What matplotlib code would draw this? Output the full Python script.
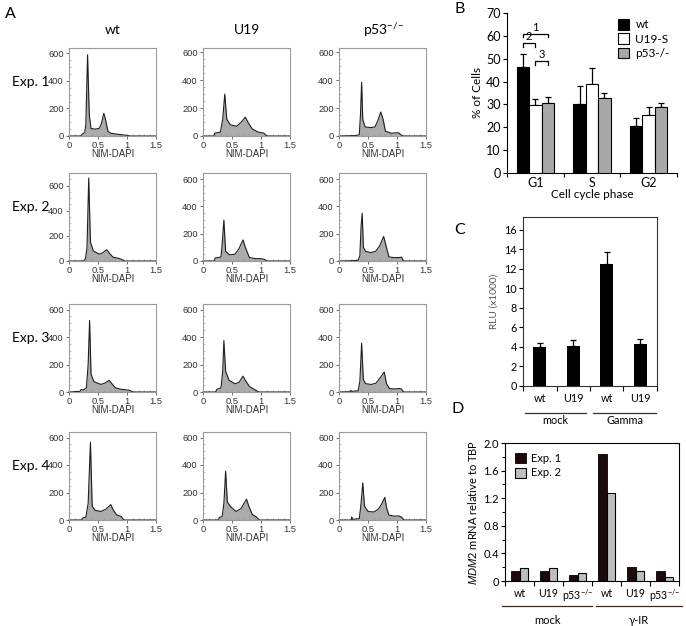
import matplotlib

matplotlib.use("Agg")
import matplotlib.pyplot as plt
from matplotlib.patches import Patch
from matplotlib.ticker import MultipleLocator

W, H = 686, 626

plt.rcParams["font.family"] = ["Lato", "DejaVu Sans"]
plt.rcParams["mathtext.fontset"] = "custom"
plt.rcParams["mathtext.rm"] = "Lato"
plt.rcParams["mathtext.it"] = "Liberation Sans:italic"
plt.rcParams["mathtext.default"] = "regular"

# ---- Panel A: NIM-DAPI histograms, breakpoints (rows = Exp. 1..4)
genotypes = ["wt", "U19", "p53$^{{-}/{-}}$"]
experiments = ["Exp. 1", "Exp. 2", "Exp. 3", "Exp. 4"]

wt_x = [
    [0, 0.20, 0.23, 0.27, 0.29, 0.32, 0.35, 0.38, 0.45, 0.52, 0.56, 0.60, 0.63, 0.67, 0.72, 0.85, 1.0, 1.05, 1.5],
    [0, 0.25, 0.28, 0.31, 0.34, 0.37, 0.42, 0.52, 0.58, 0.65, 0.70, 0.76, 0.85, 0.93, 0.96, 1.5],
    [0, 0.19, 0.21, 0.25, 0.30, 0.33, 0.355, 0.38, 0.43, 0.55, 0.62, 0.69, 0.73, 0.80, 0.90, 1.05, 1.10, 1.5],
    [0, 0.22, 0.24, 0.29, 0.33, 0.37, 0.40, 0.45, 0.55, 0.64, 0.72, 0.76, 0.82, 0.90, 0.95, 1.5],
]
wt_y = [
    [0, 0, 15, 25, 80, 590, 150, 55, 50, 55, 90, 165, 120, 35, 20, 12, 5, 0, 0],
    [0, 0, 15, 100, 660, 150, 80, 55, 65, 90, 60, 30, 22, 8, 0, 0],
    [0, 5, 18, 15, 30, 200, 520, 130, 75, 55, 65, 85, 65, 30, 20, 12, 0, 0],
    [0, 0, 15, 20, 120, 565, 100, 70, 62, 80, 112, 75, 38, 25, 0, 0],
]
u19_x = [
    [0, 0.19, 0.20, 0.30, 0.34, 0.375, 0.41, 0.47, 0.58, 0.66, 0.73, 0.78, 0.85, 0.95, 1.05, 1.10, 1.5],
    [0, 0.19, 0.21, 0.31, 0.33, 0.36, 0.39, 0.46, 0.55, 0.62, 0.69, 0.73, 0.80, 0.90, 1.0, 1.06, 1.10, 1.5],
    [0, 0.22, 0.24, 0.31, 0.34, 0.36, 0.39, 0.45, 0.55, 0.62, 0.69, 0.73, 0.80, 0.90, 0.96, 1.5],
    [0, 0.26, 0.28, 0.33, 0.36, 0.39, 0.42, 0.48, 0.57, 0.66, 0.75, 0.79, 0.85, 0.92, 0.97, 1.5],
]
u19_y = [
    [0, 0, 20, 28, 120, 300, 120, 80, 70, 100, 135, 95, 50, 28, 20, 0, 0],
    [0, 0, 22, 30, 120, 300, 70, 45, 50, 90, 155, 100, 25, 18, 17, 12, 0, 0],
    [0, 0, 20, 30, 150, 375, 150, 85, 60, 70, 115, 85, 40, 15, 0, 0],
    [0, 0, 18, 25, 120, 355, 130, 95, 62, 85, 152, 100, 40, 22, 0, 0],
]
p53_x = [
    [0, 0.30, 0.35, 0.37, 0.39, 0.41, 0.45, 0.55, 0.62, 0.67, 0.72, 0.76, 0.80, 0.90, 0.98, 1.03, 1.07, 1.10, 1.5],
    [0, 0.20, 0.33, 0.36, 0.38, 0.40, 0.42, 0.46, 0.55, 0.63, 0.70, 0.77, 0.80, 0.86, 0.95, 1.04, 1.08, 1.11, 1.5],
    [0, 0.19, 0.20, 0.22, 0.33, 0.36, 0.39, 0.42, 0.46, 0.56, 0.64, 0.72, 0.78, 0.82, 0.87, 0.95, 1.05, 1.08, 1.11, 1.5],
    [0, 0.21, 0.22, 0.23, 0.35, 0.38, 0.41, 0.44, 0.50, 0.60, 0.68, 0.74, 0.79, 0.82, 0.86, 0.95, 1.03, 1.08, 1.12, 1.5],
]
p53_y = [
    [0, 3, 10, 150, 385, 120, 65, 60, 65, 110, 172, 120, 35, 20, 22, 22, 8, 0, 0],
    [0, 2, 5, 40, 250, 350, 100, 70, 62, 70, 110, 180, 130, 30, 25, 25, 28, 0, 0],
    [0, 2, 12, 5, 8, 80, 355, 90, 60, 55, 65, 110, 145, 60, 25, 22, 25, 20, 0, 0],
    [0, 0, 22, 5, 10, 120, 270, 100, 62, 58, 80, 120, 165, 90, 35, 28, 30, 20, 0, 0],
]
hist_ymax = [[640, 630, 630], [700, 645, 645], [640, 640, 640], [640, 640, 640]]

# ---- Panel B: % of cells per cell cycle phase
phases = ["G1", "S", "G2"]
b_series = ["wt", "U19-S", "p53-/-"]
b_wt = [46.3, 30.2, 20.5]
b_wt_err = [5.7, 7.8, 3.7]
b_u19 = [29.6, 39.0, 25.2]
b_u19_err = [2.9, 7.1, 3.8]
b_p53 = [30.7, 32.6, 29.0]
b_p53_err = [2.7, 2.5, 1.7]
bracket_pairs = [(0, 2), (0, 1), (1, 2)]
bracket_y = [60.9, 56.8, 49.0]
bracket_labels = ["1", "2", "3"]

# ---- Panel C: luciferase
c_labels = ["wt", "U19", "wt", "U19"]
c_vals = [4.0, 4.1, 12.5, 4.35]
c_err = [0.4, 0.6, 1.2, 0.5]
c_groups = ["mock", "Gamma"]

# ---- Panel D: MDM2 mRNA
d_labels = ["wt", "U19", "p53$^{{-}/{-}}$", "wt", "U19", "p53$^{{-}/{-}}$"]
d_exp1 = [0.15, 0.14, 0.09, 1.84, 0.21, 0.14]
d_exp2 = [0.19, 0.19, 0.12, 1.28, 0.14, 0.06]
d_groups = ["mock", "\u03b3-IR"]


def px_axes(fig, left, top, right, bottom):
    return fig.add_axes([left / W, 1 - bottom / H, (right - left) / W, (bottom - top) / H])


def fig_text(fig, x, y, s, **kw):
    fig.text(x / W, 1 - y / H, s, ha="center", va="center", **kw)


fig = plt.figure(figsize=(W / 100, H / 100), dpi=100)

# Panel A
col_left = [69, 203, 339]
row_top = [48, 173, 304, 432]
all_x = [wt_x, u19_x, p53_x]
all_y = [wt_y, u19_y, p53_y]
for r, top in enumerate(row_top):
    for c, left in enumerate(col_left):
        ax = px_axes(fig, left, top, left + 87, top + 88)
        xs, ys = all_x[c][r], all_y[c][r]
        ax.fill_between(xs, ys, color="#ababab", lw=0)
        ax.plot(xs, ys, color="#1e1e1e", lw=0.8, clip_on=False)
        ax.set_xlim(0, 1.5)
        ax.set_ylim(0, hist_ymax[r][c])
        ax.set_xticks([0, 0.5, 1, 1.5], ["0", "0.5", "1", "1.5"])
        ax.set_yticks([0, 200, 400, 600])
        ax.xaxis.set_minor_locator(MultipleLocator(0.1))
        ax.yaxis.set_minor_locator(MultipleLocator(50))
        for s in ax.spines.values():
            s.set_color("#9a9a9a")
            s.set_linewidth(0.8)
        ax.tick_params(which="major", length=2.5, width=0.6, color="#555555", labelsize=6.7,
                       labelcolor="#333333", pad=1.2)
        ax.tick_params(which="minor", length=1.2, width=0.4, color="#888888", direction="in")
        for lab in ax.get_xticklabels() + ax.get_yticklabels():
            lab.set_family("Liberation Sans")
        ax.set_xlabel("NIM-DAPI", fontsize=7, family="Liberation Sans", color="#333333", labelpad=-1)
    fig.text(12 / W, 1 - (top + 34) / H, experiments[r], ha="left", va="center", fontsize=10)
for c, left in enumerate(col_left):
    fig_text(fig, left + 44, 30, genotypes[c], fontsize=10)

# Panel B
axb = px_axes(fig, 507, 13.3, 677, 172.7)
offsets = [-0.22, 0.0, 0.22]
b_vals = [b_wt, b_u19, b_p53]
b_errs = [b_wt_err, b_u19_err, b_p53_err]
b_face = ["black", "white", "#a8a8a8"]
xpos = list(range(len(phases)))
for i in range(3):
    xi = [x + offsets[i] for x in xpos]
    axb.errorbar(xi, b_vals[i], yerr=[[0] * 3, b_errs[i]], fmt="none", ecolor="black",
                 elinewidth=0.9, capsize=2.5, capthick=0.9, zorder=2)
    axb.bar(xi, b_vals[i], width=0.22, color=b_face[i], edgecolor="black", lw=0.8,
            label=b_series[i], zorder=3)
for (i0, i1), yb, lab in zip(bracket_pairs, bracket_y, bracket_labels):
    xa, xb = offsets[i0], offsets[i1]
    axb.plot([xa, xa, xb, xb], [yb - 1.5, yb, yb, yb - 1.5], color="black", lw=0.9)
    axb.text((xa + xb) / 2, yb + 0.6, lab, ha="center", va="bottom", fontsize=8)
axb.set_xlim(-0.5, 2.5)
axb.set_ylim(0, 70)
axb.set_yticks(range(0, 71, 10))
axb.set_xticks([-0.5, 0.5, 1.5, 2.5], [""] * 4)
axb.set_xticks(xpos, phases, minor=True)
axb.tick_params(axis="x", which="minor", length=0, labelsize=9, pad=3)
axb.tick_params(axis="x", which="major", length=3, width=0.8)
axb.tick_params(axis="y", length=3, width=0.8, labelsize=9, pad=1.5)
axb.spines[["top", "right"]].set_visible(False)
axb.set_ylabel("% of Cells", fontsize=8.5, labelpad=2)
axb.set_xlabel("Cell cycle phase", fontsize=8.5, labelpad=0)
axb.legend(handles=[Patch(facecolor=f, edgecolor="black", lw=0.8) for f in b_face], labels=b_series,
           loc="upper right", bbox_to_anchor=(1.02, 1.03), frameon=False, fontsize=8.5,
           handlelength=1.0, handleheight=1.0, handletextpad=0.5, labelspacing=0.25)

# Panel C
axc = px_axes(fig, 523, 217, 657, 386)
cx = list(range(len(c_vals)))
axc.errorbar(cx, c_vals, yerr=[[0] * 4, c_err], fmt="none", ecolor="black", elinewidth=0.9,
             capsize=2.5, capthick=0.9, zorder=2)
axc.bar(cx, c_vals, width=0.4, color="black", zorder=3)
axc.set_xlim(-0.5, 3.5)
axc.set_ylim(0, 17.3)
axc.set_yticks(range(0, 17, 2))
axc.set_xticks([-0.5, 0.5, 1.5, 2.5, 3.5], [""] * 5)
axc.set_xticks(cx, c_labels, minor=True)
axc.tick_params(axis="x", which="minor", length=0, labelsize=7.8, pad=5)
axc.tick_params(axis="x", which="major", length=3.5, width=0.8)
axc.tick_params(axis="y", length=3, width=0.8, labelsize=7.8, pad=1.5)
for s in axc.spines.values():
    s.set_color("#333333")
    s.set_linewidth(0.8)
axc.set_ylabel("RLU (x1000)", fontsize=7.3, color="#555555", labelpad=4)
c_spans = [(-0.44, 1.38), (1.59, 3.47)]
for (x0, x1), name in zip(c_spans, c_groups):
    axc.plot([x0, x1], [-0.158, -0.158], transform=axc.get_xaxis_transform(), color="#333333",
             lw=0.9, clip_on=False)
    axc.text((x0 + x1) / 2, -0.205, name, transform=axc.get_xaxis_transform(), ha="center",
             va="center", fontsize=7.8)

# Panel D
axd = px_axes(fig, 505, 443, 679, 581)
dx = list(range(len(d_exp1)))
axd.bar([x - 0.145 for x in dx], d_exp1, width=0.29, color="#1c0a0a", edgecolor="black", lw=0.6,
        label="Exp. 1")
axd.bar([x + 0.145 for x in dx], d_exp2, width=0.29, color="#bebebe", edgecolor="black", lw=0.8,
        label="Exp. 2")
axd.set_xlim(-0.5, 5.5)
axd.set_ylim(0, 2.0)
axd.set_yticks([0, 0.4, 0.8, 1.2, 1.6, 2.0], ["0", "0.4", "0.8", "1.2", "1.6", "2.0"])
axd.yaxis.set_minor_locator(MultipleLocator(0.2))
axd.set_xticks([x - 0.5 for x in range(7)], [""] * 7)
axd.set_xticks(dx, d_labels, minor=True)
axd.tick_params(axis="x", which="minor", length=0, labelsize=7.6, pad=5)
axd.tick_params(axis="x", which="major", length=3.5, width=0.8)
axd.tick_params(axis="y", which="major", length=3, width=0.8, labelsize=8, pad=1.5)
axd.tick_params(axis="y", which="minor", length=2, width=0.7)
for s in axd.spines.values():
    s.set_linewidth(0.8)
axd.set_ylabel("$\\it{MDM2}$ mRNA relative to TBP", fontsize=8, labelpad=3)
axd.legend(loc="upper left", bbox_to_anchor=(0.0, 1.0), frameon=False, fontsize=8,
           handlelength=1.0, handleheight=1.0, handletextpad=0.4, labelspacing=0.3)
d_spans = [(-0.6, 2.5), (2.65, 5.6)]
for (x0, x1), name in zip(d_spans, d_groups):
    axd.plot([x0, x1], [-0.179, -0.179], transform=axd.get_xaxis_transform(), color="#3a2a20",
             lw=0.9, clip_on=False)
    axd.text((x0 + x1) / 2, -0.283, name, transform=axd.get_xaxis_transform(), ha="center",
             va="center", fontsize=8)

# panel letters
for letter, (x, y) in zip("ABCD", [(10, 14), (460, 9), (460, 230), (458, 409)]):
    fig_text(fig, x, y, letter, fontsize=11.5)

fig.savefig("out.png", dpi=100)
